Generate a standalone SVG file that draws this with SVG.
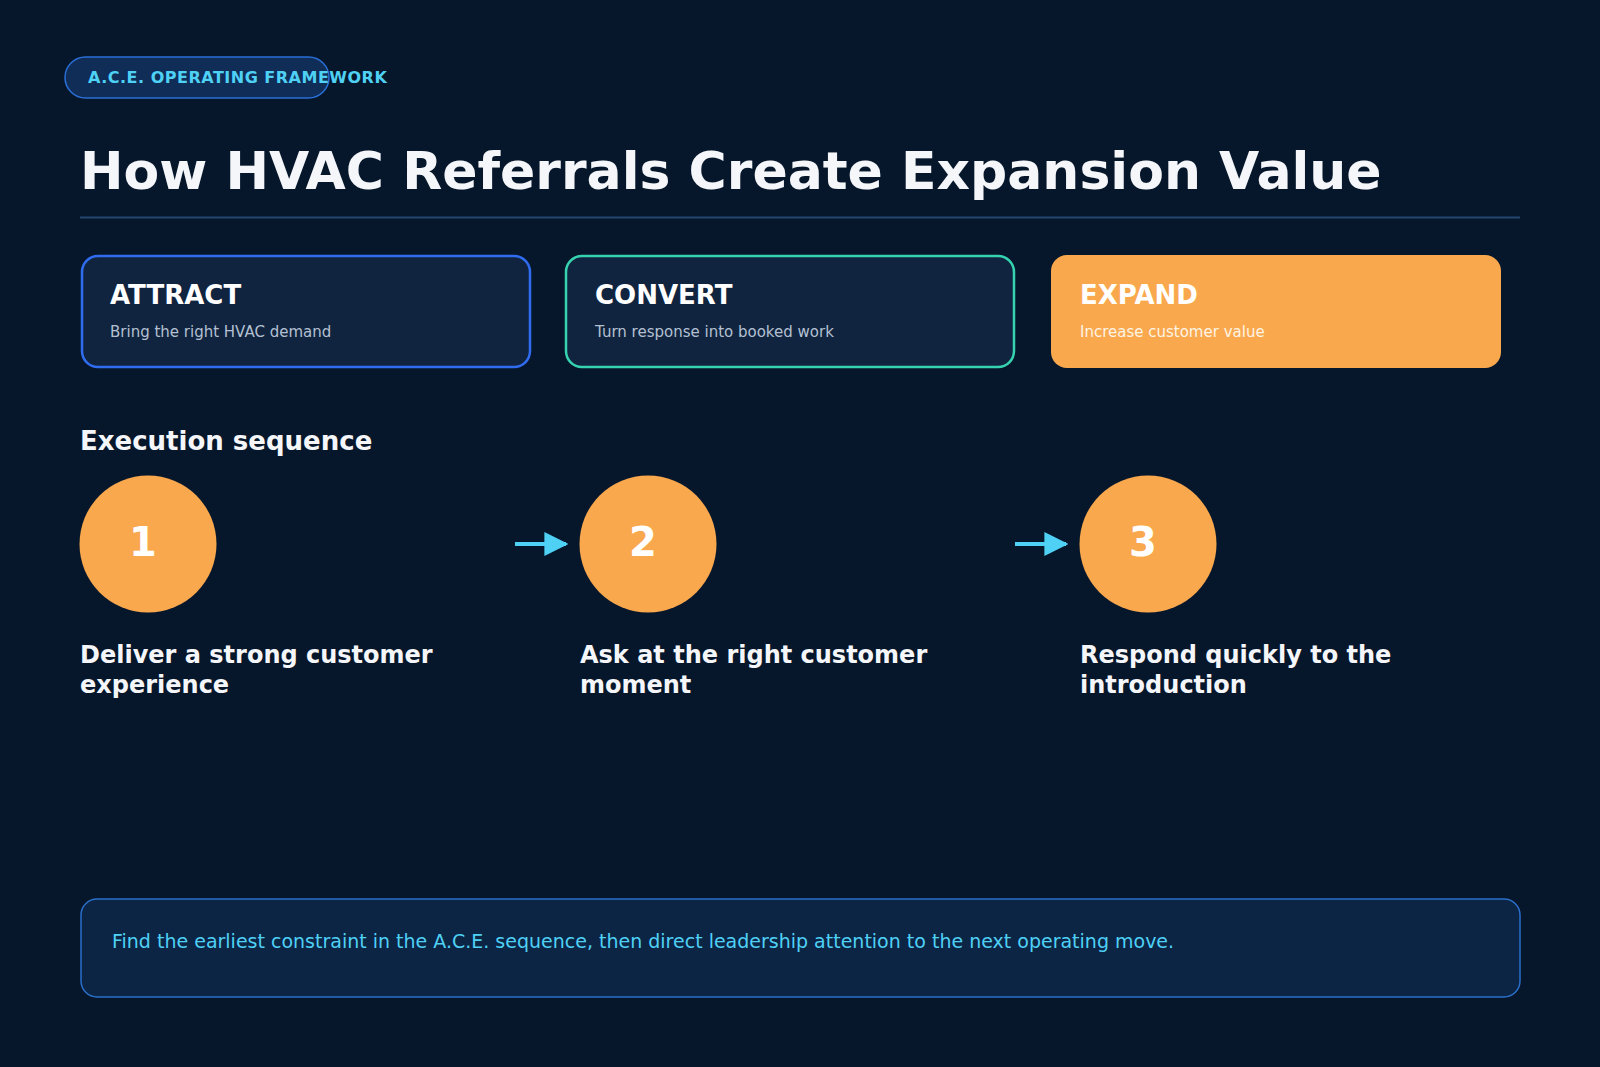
<svg xmlns="http://www.w3.org/2000/svg" width="1600" height="1067" viewBox="0 0 1600 1067">
<style>
text{font-family:"DejaVu Sans","Noto Sans",sans-serif}
.card{fill:#10243f;stroke-width:2.5}
.ct{font-weight:bold;font-size:26px;fill:#ffffff}
.cs{font-size:15px;fill:#b4c0d2}
.circ{fill:#f9a84d}
.num{font-weight:bold;font-size:40px;fill:#ffffff;text-anchor:middle}
.st{font-weight:bold;font-size:24px;fill:#f4f6fa}
.conn{stroke:#4fd1f5;stroke-width:4;fill:none}
</style>
<defs><marker id="ah" viewBox="0 0 10 10" refX="9" refY="5" markerWidth="6" markerHeight="6" markerUnits="strokeWidth" orient="auto"><path d="M0,0L10,5L0,10z" fill="#4fd1f5"/></marker></defs>
<rect width="1600" height="1067" fill="#07172b"/>
<g id="badge"><rect x="65" y="57" width="264" height="41" rx="20.5" fill="#0f2d57" stroke="#2a6fd6" stroke-width="1.5"/>
<text x="88" y="83" font-size="16" font-weight="bold" fill="#4fd1f5" letter-spacing="0.5">A.C.E. OPERATING FRAMEWORK</text></g>
<text x="80" y="189" font-size="52" font-weight="bold" fill="#f4f6fa">How HVAC Referrals Create Expansion Value</text>
<line x1="80" y1="217.5" x2="1520" y2="217.5" stroke="#24476f" stroke-width="2"/>
<g id="attract"><rect class="card" x="82" y="256" width="448" height="111" rx="16" stroke="#2f6cf0"/><text class="ct" x="110" y="304">ATTRACT</text><text class="cs" x="110" y="337">Bring the right HVAC demand</text></g>
<g id="convert"><rect class="card" x="566" y="256" width="448" height="111" rx="16" stroke="#35d3b0"/><text class="ct" x="595" y="304">CONVERT</text><text class="cs" x="595" y="337">Turn response into booked work</text></g>
<g id="expand"><rect x="1051" y="255" width="450" height="113" rx="16" fill="#f9a84d"/><text class="ct" x="1080" y="304">EXPAND</text><text class="cs" x="1080" y="337" fill="#fff4e4" style="fill:#fff4e4">Increase customer value</text></g>
<text x="80" y="450" font-size="26" font-weight="bold" fill="#f4f6fa">Execution sequence</text>
<g id="connectors"><line class="conn" x1="515" y1="544" x2="566" y2="544" marker-end="url(#ah)"/><line class="conn" x1="1015" y1="544" x2="1066" y2="544" marker-end="url(#ah)"/></g>
<g id="step1"><circle class="circ" cx="148" cy="544" r="68.5"/><text class="num" x="143" y="556">1</text><text class="st" x="80" y="663">Deliver a strong customer</text><text class="st" x="80" y="693">experience</text></g>
<g id="step2"><circle class="circ" cx="648" cy="544" r="68.5"/><text class="num" x="643" y="556">2</text><text class="st" x="580" y="663">Ask at the right customer</text><text class="st" x="580" y="693">moment</text></g>
<g id="step3"><circle class="circ" cx="1148" cy="544" r="68.5"/><text class="num" x="1143" y="556">3</text><text class="st" x="1080" y="663">Respond quickly to the</text><text class="st" x="1080" y="693">introduction</text></g>
<g id="note"><rect x="81" y="899" width="1439" height="98" rx="16" fill="#0c2545" stroke="#2a6fc9" stroke-width="1.5"/><text x="112" y="948" font-size="19" fill="#4fd1f5">Find the earliest constraint in the A.C.E. sequence, then direct leadership attention to the next operating move.</text></g>
</svg>
